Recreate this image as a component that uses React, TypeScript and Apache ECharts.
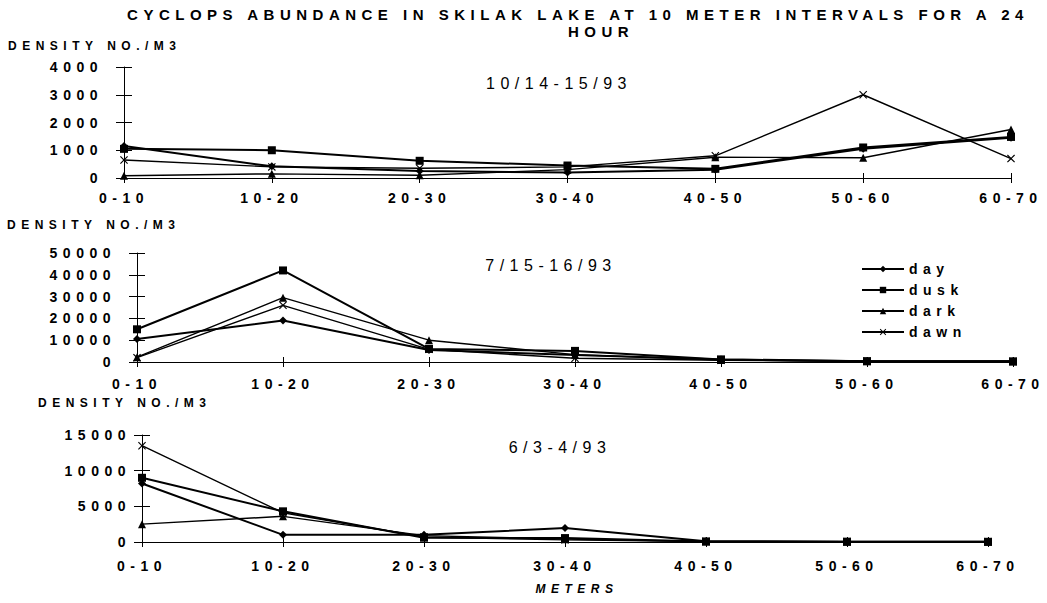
import React, { useEffect, useRef } from "react";
import * as echarts from "echarts";

// ---- data ----
const depthCategories = ["0-10", "10-20", "20-30", "30-40", "40-50", "50-60", "60-70"];
const seriesNames = ["day", "dusk", "dark", "dawn"];

// 10/14-15/93
const octDay = [1150, 420, 250, 200, 300, 1050, 1450];
const octDusk = [1050, 1000, 620, 450, 330, 1100, 1480];
const octDark = [80, 150, 100, 300, 750, 730, 1750];
const octDawn = [650, 400, 350, 400, 800, 3000, 700];

// 7/15-16/93
const julDay = [10500, 19000, 5500, 3200, 1100, 400, 300];
const julDusk = [15000, 42000, 6000, 5100, 1200, 400, 300];
const julDark = [2200, 29500, 10000, 3400, 900, 300, 200];
const julDawn = [2000, 26000, 5800, 1700, 800, 300, 200];

// 6/3-4/93
const junDay = [8200, 1000, 1000, 1950, 100, 50, 30];
const junDusk = [9000, 4300, 600, 550, 80, 50, 30];
const junDark = [2500, 3600, 900, 400, 80, 40, 20];
const junDawn = [13500, 4100, 700, 300, 60, 30, 20];

const panelLabels = ["10/14-15/93", "7/15-16/93", "6/3-4/93"];
const yMaxes = [4000, 50000, 15000];
const yIntervals = [1000, 10000, 5000];

const titleLine1 = "CYCLOPS ABUNDANCE IN SKILAK LAKE AT 10 METER INTERVALS FOR A 24";
const titleLine2 = "HOUR";
const yAxisTitle = "DENSITY NO./M3";
const xAxisTitle = "METERS";

const panelData = [
  [octDay, octDusk, octDark, octDawn],
  [julDay, julDusk, julDark, julDawn],
  [junDay, junDusk, junDark, junDawn],
];

const FONT = "Liberation Sans";
const crossPath =
  "path://M0,1L1,0L5,4L9,0L10,1L6,5L10,9L9,10L5,6L1,10L0,9L4,5Z";
const symbols = ["diamond", "rect", "triangle", crossPath];
const symbolSizes = [8, 8, 8, 8];
const lineWidths = [2, 2, 1.4, 1.4];

const grids = [
  { left: 124, width: 887, top: 67, height: 111 },
  { left: 137, width: 876, top: 253, height: 109 },
  { left: 142, width: 846, top: 435, height: 107 },
];
const yLabelMargins = [21, 21, 11];
const xLabelMargins = [13, 15, 17];

export default function App() {
  const ref = useRef<HTMLDivElement>(null);

  useEffect(() => {
    if (!ref.current) return;
    const chart = echarts.init(ref.current, undefined, { renderer: "svg" });

    const xAxes: any[] = [];
    const yAxes: any[] = [];
    const series: any[] = [];

    grids.forEach((_, gi) => {
      xAxes.push({
        type: "category",
        gridIndex: gi,
        data: depthCategories,
        boundaryGap: false,
        position: "bottom",
        axisLine: { show: true, onZero: false, lineStyle: { color: "#000", width: 1 } },
        axisTick: { show: true, inside: false, length: 5, lineStyle: { color: "#000" } },
        axisLabel: {
          show: true,
          interval: 0,
          margin: xLabelMargins[gi],
          color: "#000",
          fontSize: 14,
          fontWeight: "bold",
          fontFamily: FONT,
        },
        splitLine: { show: false },
      });
      xAxes.push({
        type: "category",
        gridIndex: gi,
        data: depthCategories,
        boundaryGap: false,
        position: "bottom",
        axisLine: { show: false, onZero: false },
        axisTick: { show: true, inside: true, length: 5, lineStyle: { color: "#000" } },
        axisLabel: { show: false },
        splitLine: { show: false },
      });
      yAxes.push({
        type: "value",
        gridIndex: gi,
        min: 0,
        max: yMaxes[gi],
        interval: yIntervals[gi],
        position: "left",
        axisLine: { show: true, lineStyle: { color: "#000", width: 1 } },
        axisTick: { show: true, inside: false, length: 8, lineStyle: { color: "#000" } },
        axisLabel: {
          show: true,
          margin: yLabelMargins[gi],
          color: "#000",
          fontSize: 14,
          fontWeight: "bold",
          fontFamily: FONT,
          formatter: (v: number) => String(v),
        },
        splitLine: { show: false },
      });
      yAxes.push({
        type: "value",
        gridIndex: gi,
        min: 0,
        max: yMaxes[gi],
        interval: yIntervals[gi],
        position: "left",
        axisLine: { show: false },
        axisTick: { show: true, inside: true, length: 8, lineStyle: { color: "#000" } },
        axisLabel: { show: false },
        splitLine: { show: false },
      });

      seriesNames.forEach((name, si) => {
        series.push({
          type: "line",
          name,
          xAxisIndex: gi * 2,
          yAxisIndex: gi * 2,
          data: panelData[gi][si],
          symbol: symbols[si],
          symbolSize: symbolSizes[si],
          showSymbol: true,
          lineStyle: { color: "#000", width: lineWidths[si] },
          itemStyle: { color: "#000" },
          emphasis: { disabled: true },
        });
      });
    });

    const textStyleBold = (size: number) => ({
      fill: "#000",
      fontSize: size,
      fontWeight: "bold",
      fontFamily: FONT,
    });

    const graphic: any[] = [
      {
        type: "text",
        x: 578,
        y: 14,
        style: { ...textStyleBold(15), text: titleLine1, align: "center", verticalAlign: "middle" },
      },
      {
        type: "text",
        x: 601,
        y: 31,
        style: { ...textStyleBold(15), text: titleLine2, align: "center", verticalAlign: "middle" },
      },
      {
        type: "text",
        x: 8,
        y: 46,
        style: { ...textStyleBold(12), text: yAxisTitle, align: "left", verticalAlign: "middle" },
      },
      {
        type: "text",
        x: 7,
        y: 225,
        style: { ...textStyleBold(12), text: yAxisTitle, align: "left", verticalAlign: "middle" },
      },
      {
        type: "text",
        x: 38,
        y: 403,
        style: { ...textStyleBold(12), text: yAxisTitle, align: "left", verticalAlign: "middle" },
      },
      {
        type: "text",
        x: 559,
        y: 83,
        style: { fill: "#000", fontSize: 16, fontFamily: FONT, text: panelLabels[0], align: "center", verticalAlign: "middle" },
      },
      {
        type: "text",
        x: 551,
        y: 265,
        style: { fill: "#000", fontSize: 16, fontFamily: FONT, text: panelLabels[1], align: "center", verticalAlign: "middle" },
      },
      {
        type: "text",
        x: 560,
        y: 447,
        style: { fill: "#000", fontSize: 16, fontFamily: FONT, text: panelLabels[2], align: "center", verticalAlign: "middle" },
      },
      {
        type: "text",
        x: 577,
        y: 589,
        style: {
          ...textStyleBold(12),
          fontStyle: "italic",
          text: xAxisTitle,
          align: "center",
          verticalAlign: "middle",
        },
      },
    ];

    chart.setOption({
      animation: false,
      backgroundColor: "#fff",
      textStyle: { fontFamily: FONT },
      grid: grids,
      xAxis: xAxes,
      yAxis: yAxes,
      series,
      legend: {
        data: seriesNames,
        orient: "vertical",
        left: 856,
        top: 257,
        itemWidth: 42,
        itemHeight: 8,
        itemGap: 7,
        selectedMode: false,
        textStyle: { color: "#000", fontSize: 14, fontWeight: "bold", fontFamily: FONT },
      },
      graphic,
    });

    return () => {
      chart.dispose();
    };
  }, []);

  return (
    <div style={{ position: "absolute", left: 0, top: 0, width: 1047, height: 603, background: "#fff" }}>
      <style>{`.cyc-chart text { letter-spacing: 5.5px; }`}</style>
      <div className="cyc-chart" ref={ref} style={{ width: 1047, height: 603 }} />
    </div>
  );
}
